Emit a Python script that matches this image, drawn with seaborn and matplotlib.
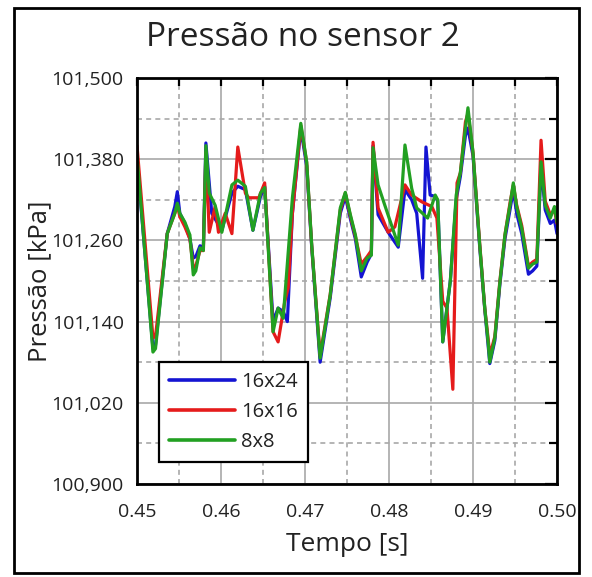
import numpy as np
import pandas as pd
import matplotlib
matplotlib.use("Agg")
import matplotlib.pyplot as plt
from matplotlib.patches import Rectangle
from matplotlib.ticker import FixedLocator, FuncFormatter
import seaborn as sns

# ---- data (time in s, pressure in kPa) ----
t_16x24 = [0.4500, 0.4519, 0.4522, 0.4536, 0.4545, 0.4548, 0.4551, 0.4557, 0.4563,
           0.4567, 0.4570, 0.4575, 0.4579, 0.4582, 0.4589, 0.4601, 0.4613, 0.4620,
           0.4629, 0.4638, 0.4647, 0.4652, 0.4662, 0.4668, 0.4674, 0.4679, 0.4685,
           0.4695, 0.4702, 0.4708, 0.4718, 0.4730, 0.4742, 0.4748, 0.4754, 0.4760,
           0.4767, 0.4774, 0.4779, 0.4781, 0.4787, 0.4799, 0.4811, 0.4819, 0.4827,
           0.4833, 0.4840, 0.4844, 0.4849, 0.4855, 0.4858, 0.4864, 0.4873, 0.4880,
           0.4885, 0.4891, 0.4894, 0.4900, 0.4908, 0.4914, 0.4918, 0.4920, 0.4926,
           0.4932, 0.4938, 0.4944, 0.4948, 0.4952, 0.4958, 0.4966, 0.4971, 0.4976,
           0.4981, 0.4986, 0.4992, 0.4997, 0.5000]
p_16x24 = [101.380, 101.100, 101.105, 101.270, 101.310, 101.332, 101.300, 101.285, 101.262,
           101.234, 101.236, 101.252, 101.250, 101.404, 101.300, 101.275, 101.330, 101.340,
           101.335, 101.275, 101.325, 101.340, 101.140, 101.160, 101.155, 101.140, 101.300,
           101.425, 101.370, 101.250, 101.080, 101.175, 101.300, 101.325, 101.292, 101.262,
           101.206, 101.228, 101.240, 101.400, 101.298, 101.272, 101.250, 101.335, 101.320,
           101.300, 101.204, 101.398, 101.327, 101.325, 101.318, 101.110, 101.200, 101.320,
           101.355, 101.415, 101.426, 101.385, 101.250, 101.158, 101.105, 101.078, 101.112,
           101.195, 101.262, 101.305, 101.335, 101.300, 101.270, 101.210, 101.215, 101.222,
           101.370, 101.305, 101.285, 101.290, 101.270]

t_16x16 = [0.4500, 0.4519, 0.4522, 0.4536, 0.4545, 0.4548, 0.4551, 0.4557, 0.4563,
           0.4567, 0.4570, 0.4575, 0.4579, 0.4582, 0.4586, 0.4593, 0.4597, 0.4605,
           0.4613, 0.4620, 0.4629, 0.4633, 0.4645, 0.4652, 0.4662, 0.4668, 0.4676,
           0.4680, 0.4685, 0.4695, 0.4702, 0.4708, 0.4718, 0.4730, 0.4742, 0.4748,
           0.4754, 0.4760, 0.4767, 0.4774, 0.4779, 0.4781, 0.4787, 0.4799, 0.4807,
           0.4819, 0.4827, 0.4839, 0.4851, 0.4857, 0.4864, 0.4869, 0.4876, 0.4881,
           0.4885, 0.4891, 0.4894, 0.4900, 0.4908, 0.4914, 0.4918, 0.4920, 0.4926,
           0.4932, 0.4938, 0.4944, 0.4948, 0.4952, 0.4958, 0.4966, 0.4971, 0.4976,
           0.4981, 0.4986, 0.4992, 0.4997, 0.5000]
p_16x16 = [101.400, 101.116, 101.118, 101.270, 101.300, 101.312, 101.295, 101.280, 101.262,
           101.219, 101.222, 101.245, 101.245, 101.390, 101.272, 101.310, 101.272, 101.300,
           101.270, 101.398, 101.330, 101.323, 101.323, 101.345, 101.125, 101.110, 101.170,
           101.190, 101.300, 101.430, 101.375, 101.252, 101.090, 101.180, 101.305, 101.330,
           101.296, 101.266, 101.225, 101.236, 101.245, 101.405, 101.308, 101.272, 101.280,
           101.342, 101.327, 101.317, 101.310, 101.293, 101.170, 101.160, 101.040, 101.345,
           101.360, 101.435, 101.448, 101.390, 101.255, 101.160, 101.115, 101.090, 101.118,
           101.200, 101.268, 101.315, 101.342, 101.312, 101.282, 101.222, 101.228, 101.232,
           101.408, 101.318, 101.298, 101.305, 101.285]

t_8x8 = [0.4500, 0.4519, 0.4522, 0.4536, 0.4545, 0.4548, 0.4551, 0.4557, 0.4563,
         0.4567, 0.4570, 0.4575, 0.4579, 0.4582, 0.4586, 0.4593, 0.4601, 0.4613,
         0.4620, 0.4629, 0.4638, 0.4647, 0.4652, 0.4662, 0.4668, 0.4674, 0.4685,
         0.4695, 0.4702, 0.4708, 0.4718, 0.4730, 0.4742, 0.4748, 0.4754, 0.4760,
         0.4767, 0.4774, 0.4779, 0.4781, 0.4787, 0.4795, 0.4811, 0.4819, 0.4827,
         0.4833, 0.4846, 0.4855, 0.4858, 0.4864, 0.4873, 0.4880, 0.4885, 0.4891,
         0.4894, 0.4900, 0.4908, 0.4914, 0.4918, 0.4920, 0.4926, 0.4932, 0.4938,
         0.4944, 0.4948, 0.4952, 0.4958, 0.4966, 0.4971, 0.4976, 0.4981, 0.4986,
         0.4992, 0.4997, 0.5000]
p_8x8 = [101.385, 101.095, 101.100, 101.270, 101.300, 101.315, 101.300, 101.287, 101.268,
         101.209, 101.215, 101.249, 101.245, 101.400, 101.330, 101.312, 101.272, 101.342,
         101.349, 101.340, 101.275, 101.330, 101.338, 101.125, 101.160, 101.145, 101.323,
         101.433, 101.376, 101.253, 101.086, 101.179, 101.308, 101.331, 101.298, 101.268,
         101.215, 101.234, 101.238, 101.397, 101.342, 101.312, 101.253, 101.401, 101.337,
         101.308, 101.293, 101.327, 101.320, 101.110, 101.200, 101.327, 101.361, 101.426,
         101.456, 101.390, 101.253, 101.160, 101.110, 101.080, 101.116, 101.198, 101.268,
         101.312, 101.345, 101.310, 101.278, 101.219, 101.225, 101.228, 101.376, 101.312,
         101.293, 101.310, 101.287]

series_names = ["16x24", "16x16", "8x8"]
series_colors = ["#1414d2", "#e51b1b", "#22a022"]

x_major = [0.45, 0.46, 0.47, 0.48, 0.49, 0.50]
x_minor = [0.455, 0.465, 0.475, 0.485, 0.495]
y_major = [100.90, 101.02, 101.14, 101.26, 101.38, 101.50]
y_minor = [100.96, 101.08, 101.20, 101.32, 101.44]

df = pd.concat([
    pd.DataFrame({"Tempo": t_16x24, "Pressao": p_16x24, "Malha": "16x24"}),
    pd.DataFrame({"Tempo": t_16x16, "Pressao": p_16x16, "Malha": "16x16"}),
    pd.DataFrame({"Tempo": t_8x8, "Pressao": p_8x8, "Malha": "8x8"}),
], ignore_index=True)

sns.set_theme(style="white")
plt.rcParams["font.family"] = ["Open Sans", "DejaVu Sans"]

fig = plt.figure(figsize=(5.92, 5.77), dpi=100)
ax = fig.add_axes([137 / 592, 1 - 484 / 577, 420 / 592, 406 / 577])

sns.lineplot(data=df, x="Tempo", y="Pressao", hue="Malha",
             hue_order=series_names, palette=series_colors,
             estimator=None, sort=False, linewidth=2.3, ax=ax)

ax.set_xlim(0.45, 0.50)
ax.set_ylim(100.9, 101.5)
ax.xaxis.set_major_locator(FixedLocator(x_major))
ax.xaxis.set_minor_locator(FixedLocator(x_minor))
ax.yaxis.set_major_locator(FixedLocator(y_major))
ax.yaxis.set_minor_locator(FixedLocator(y_minor))
ax.xaxis.set_major_formatter(FuncFormatter(lambda v, _: f"{v:.2f}"))
ax.yaxis.set_major_formatter(FuncFormatter(lambda v, _: f"{v:.3f}".replace(".", ",")))

ax.grid(which="major", color="#a8a8a8", linestyle="-", linewidth=1.2)
ax.grid(which="minor", color="#a8a8a8", linestyle=(0, (3, 2.5)), linewidth=1.2)
ax.set_axisbelow(True)

ax.tick_params(axis="both", which="both", direction="in", top=True, right=True,
               color="black", width=1.6, labelsize=14, colors="#222222")
ax.tick_params(axis="x", which="major", length=6, pad=14)
ax.tick_params(axis="x", which="minor", length=6)
ax.tick_params(axis="y", which="major", length=9, pad=9.5)
ax.tick_params(axis="y", which="minor", length=6)
for sp in ax.spines.values():
    sp.set_color("black")
    sp.set_linewidth(2.0)

ax.set_xlabel("Tempo [s]", fontsize=19, color="#222222")
ax.set_ylabel("Pressão [kPa]", fontsize=18.5, color="#222222")
ax.xaxis.set_label_coords(0.5, -0.118)
ax.yaxis.set_label_coords(-0.2024, 0.5)

leg = ax.legend(loc="lower left", bbox_to_anchor=(0.052, 0.054), fontsize=14.5,
                frameon=True, fancybox=False, framealpha=1, edgecolor="black",
                handlelength=3.3, labelspacing=0.5, borderpad=0.5,
                handletextpad=0.3, borderaxespad=0)
leg.get_frame().set_linewidth(1.6)
for line in leg.get_lines():
    line.set_linewidth(2.6)
for txt in leg.get_texts():
    txt.set_color("#222222")

fig.text(303 / 592, 1 - 38 / 577, "Pressão no sensor 2", ha="center", va="center",
         fontsize=24, color="#222222")

fig.patches.append(Rectangle((14 / 592, 1 - 573 / 577), 565 / 592, 565 / 577,
                             transform=fig.transFigure, fill=False,
                             edgecolor="black", linewidth=2.0))

fig.savefig("out.png", dpi=100)
